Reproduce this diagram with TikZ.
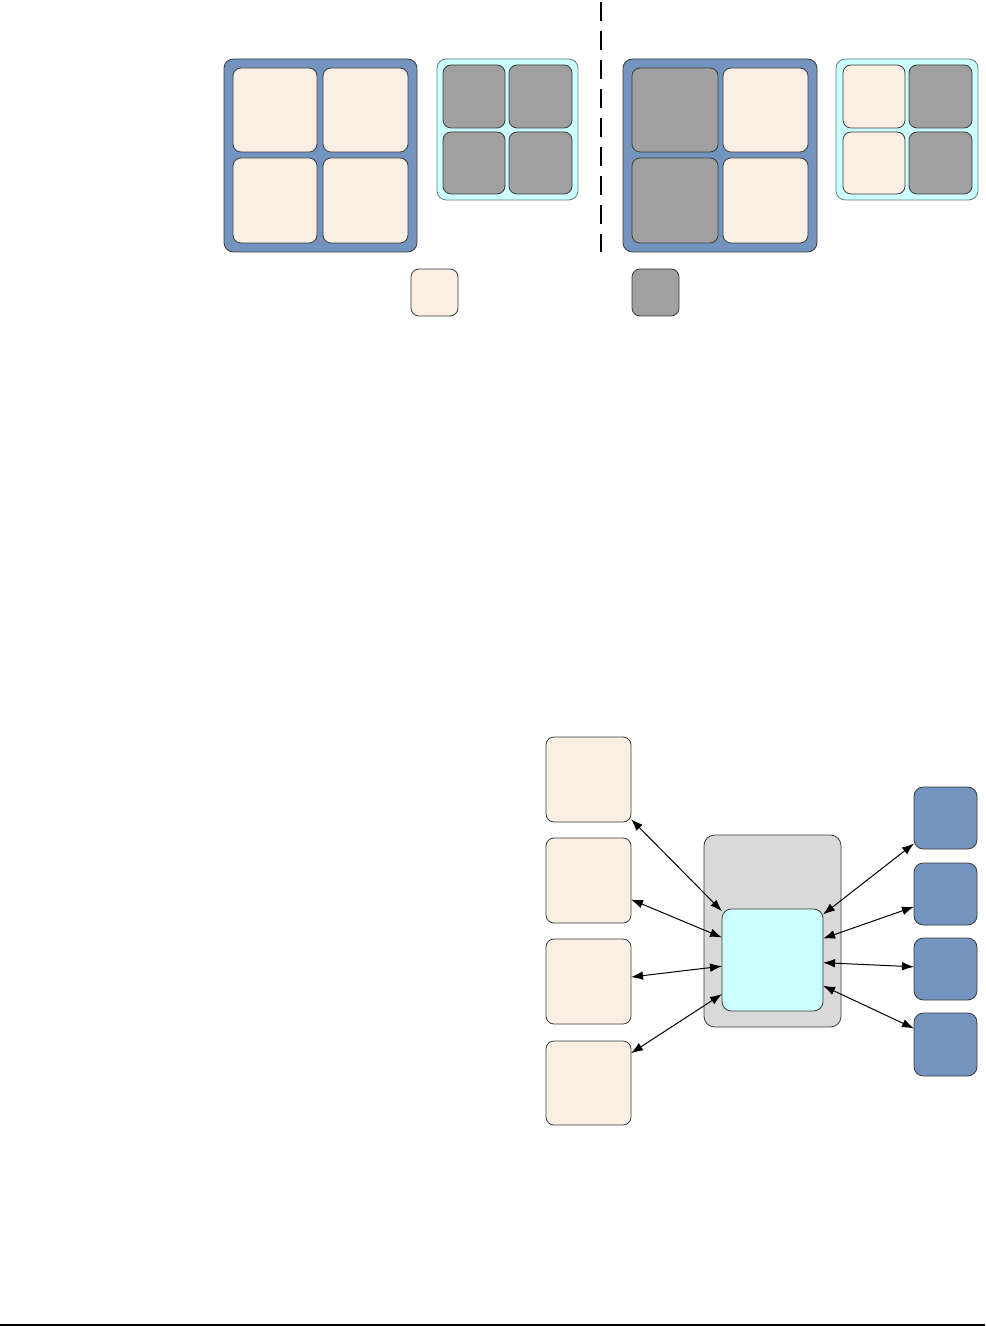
\documentclass[tikz,border=0pt]{standalone}
\usetikzlibrary{fit,arrows.meta}
\definecolor{beige}{HTML}{FBEFE4}
\definecolor{bluebox}{HTML}{7294BF}
\definecolor{cyanbox}{HTML}{CCFFFF}
\definecolor{graycell}{HTML}{A0A0A0}
\definecolor{graycont}{HTML}{D9D9D9}
\definecolor{outl}{HTML}{3A3A3A}
\definecolor{cyanoutl}{HTML}{5F7F7F}
\tikzset{
  bx/.style={draw=outl, line width=0.6pt, inner sep=0pt, outer sep=0pt, rounded corners=6pt},
  bigcell/.style={bx, fill=beige},
  graycellst/.style={bx, fill=graycell},
  bluecont/.style={bx, fill=bluebox, rounded corners=7pt},
  cyancont/.style={bx, draw=cyanoutl, fill=cyanbox, rounded corners=7pt},
  greycont/.style={bx, fill=graycont, rounded corners=8pt},
  dbl/.style={line width=0.75pt, {Latex[length=9pt,width=6.5pt]}-{Latex[length=9pt,width=6.5pt]}},
  divider/.style={line width=1.5pt, dash pattern=on 14.25pt off 7.5pt}
}
\begin{document}
\begin{tikzpicture}[x=0.75pt,y=-0.75pt]
\useasboundingbox (0,0) rectangle (985,1326);

% ---------- top left group ----------
\node[bluecont, fit={(224,59) (417,252)}] (BL) {};
\node[bigcell, fit={(233,68) (317,152)}] (BL11) {};
\node[bigcell, fit={(323,68) (408,152)}] (BL12) {};
\node[bigcell, fit={(233,158) (317,243)}] (BL21) {};
\node[bigcell, fit={(323,158) (408,243)}] (BL22) {};

\node[cyancont, fit={(437,59) (578,200)}] (CL) {};
\node[graycellst, fit={(443,65) (505,128)}] (CL11) {};
\node[graycellst, fit={(509,65) (572,128)}] (CL12) {};
\node[graycellst, fit={(443,132) (505,194)}] (CL21) {};
\node[graycellst, fit={(509,132) (572,194)}] (CL22) {};

% ---------- divider ----------
\coordinate (dtop) at (601,2);
\coordinate (dbot) at (601,252);
\draw[divider] (dtop) -- (dbot);

% ---------- top right group ----------
\node[bluecont, fit={(623,59) (817,252)}] (BR) {};
\node[graycellst, fit={(632,68) (718,152)}] (BR11) {};
\node[bigcell, fit={(723,68) (808,152)}] (BR12) {};
\node[graycellst, fit={(632,158) (718,243)}] (BR21) {};
\node[bigcell, fit={(723,158) (808,243)}] (BR22) {};

\node[cyancont, fit={(836,59) (978,200)}] (CR) {};
\node[bigcell, fit={(843,65) (905,128)}] (CR11) {};
\node[graycellst, fit={(909,65) (972,128)}] (CR12) {};
\node[bigcell, fit={(843,132) (905,194)}] (CR21) {};
\node[graycellst, fit={(909,132) (972,194)}] (CR22) {};

% ---------- legend ----------
\node[bigcell, fit={(411,269) (458,316)}] (legA) {};
\node[graycellst, fit={(632,269) (679,316)}] (legB) {};

% ---------- bottom diagram ----------
\node[bigcell, fit={(546,737) (631,822)}] (l1) {};
\node[bigcell, fit={(546,838) (631,923)}] (l2) {};
\node[bigcell, fit={(546,939) (631,1024)}] (l3) {};
\node[bigcell, fit={(546,1041) (631,1125)}] (l4) {};

\node[greycont, fit={(704,835) (841,1027)}] (g) {};
\node[bx, fill=cyanbox, rounded corners=7pt, fit={(722,909) (823,1011)}] (c) {};

\node[bluecont, fit={(914,787) (977,849)}] (r1) {};
\node[bluecont, fit={(914,863) (977,925)}] (r2) {};
\node[bluecont, fit={(914,938) (977,1000)}] (r3) {};
\node[bluecont, fit={(914,1013) (977,1076)}] (r4) {};

\draw[dbl] (l1.-43) -- (c.136);
\draw[dbl] (l2.-24) -- (c.156);
\draw[dbl] (l3.6) -- (c.-173);
\draw[dbl] (l4.35) -- (c.-146);

\draw[dbl] (c.42) -- (r1.-141);
\draw[dbl] (c.23) -- (r2.-158);
\draw[dbl] (c.-3) -- (r3.176);
\draw[dbl] (c.-27) -- (r4.153);

% ---------- bottom rule ----------
\coordinate (rl) at (0,1325);
\coordinate (rr) at (985,1325);
\draw[line width=1.2pt] (rl) -- (rr);
\end{tikzpicture}
\end{document}
